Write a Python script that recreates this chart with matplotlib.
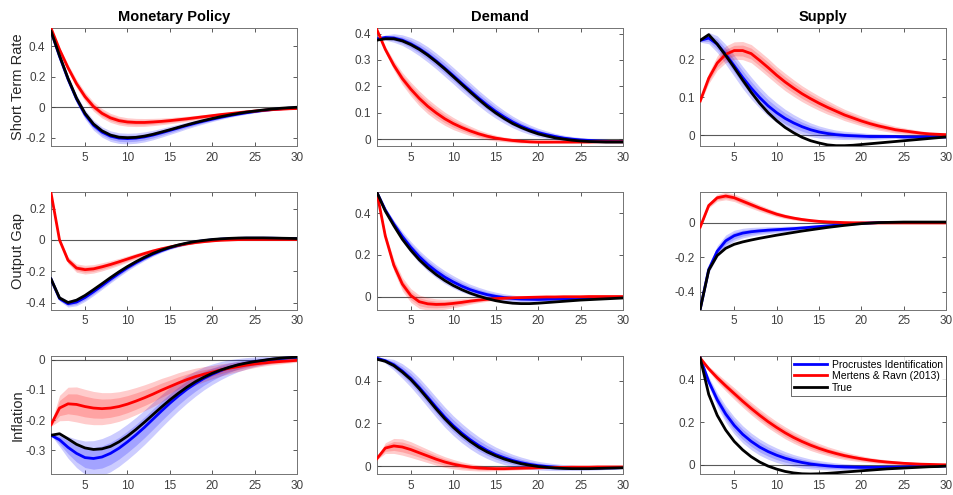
import numpy as np
import matplotlib
matplotlib.use('agg')
import matplotlib.pyplot as plt

plt.rcParams['font.family'] = ['Liberation Sans', 'DejaVu Sans']

h = np.arange(1, 31)
shocks = ['Monetary Policy', 'Demand', 'Supply']
variables = ['Short Term Rate', 'Output Gap', 'Inflation']
labels = ['Procrustes Identification', 'Mertens & Ravn (2013)', 'True']

# --- short term rate ---
mp_rate_true = [0.50,0.34,0.19,0.06,-0.04,-0.11,-0.155,-0.183,-0.197,-0.20,-0.198,-0.19,-0.178,-0.163,-0.148,-0.132,-0.116,-0.101,-0.087,-0.074,-0.062,-0.051,-0.041,-0.032,-0.025,-0.018,-0.012,-0.007,-0.003,0.0]
mp_rate_proc = [0.50,0.335,0.185,0.055,-0.047,-0.118,-0.163,-0.19,-0.203,-0.206,-0.203,-0.195,-0.183,-0.168,-0.152,-0.136,-0.12,-0.105,-0.091,-0.078,-0.066,-0.055,-0.045,-0.036,-0.028,-0.021,-0.015,-0.01,-0.006,-0.003]
mp_rate_mr = [0.52,0.38,0.26,0.155,0.07,0.005,-0.04,-0.07,-0.088,-0.097,-0.10,-0.10,-0.097,-0.093,-0.088,-0.082,-0.076,-0.069,-0.062,-0.055,-0.048,-0.042,-0.036,-0.03,-0.025,-0.02,-0.016,-0.013,-0.01,-0.008]
mp_rate_proc_w = [0.0,0.012,0.022,0.028,0.031,0.033,0.034,0.035,0.035,0.035,0.034,0.033,0.031,0.029,0.027,0.025,0.022,0.02,0.018,0.016,0.014,0.012,0.011,0.01,0.009,0.008,0.007,0.006,0.006,0.005]
mp_rate_mr_w = [0.0,0.014,0.023,0.028,0.03,0.031,0.031,0.03,0.029,0.028,0.027,0.026,0.024,0.022,0.02,0.019,0.017,0.015,0.014,0.012,0.011,0.01,0.009,0.008,0.007,0.006,0.006,0.005,0.005,0.004]

dm_rate_true = [0.375,0.38,0.38,0.372,0.358,0.34,0.318,0.293,0.266,0.237,0.208,0.179,0.151,0.124,0.10,0.079,0.06,0.045,0.032,0.021,0.013,0.006,0.001,-0.003,-0.006,-0.008,-0.009,-0.01,-0.01,-0.01]
dm_rate_proc = [0.38,0.385,0.383,0.375,0.361,0.343,0.321,0.296,0.269,0.241,0.212,0.184,0.156,0.13,0.106,0.085,0.066,0.05,0.037,0.026,0.018,0.011,0.005,0.001,-0.002,-0.004,-0.006,-0.007,-0.008,-0.008]
dm_rate_mr = [0.415,0.34,0.28,0.23,0.19,0.155,0.125,0.10,0.078,0.06,0.045,0.032,0.021,0.012,0.005,0.0,-0.004,-0.007,-0.009,-0.01,-0.01,-0.01,-0.01,-0.01,-0.01,-0.01,-0.009,-0.009,-0.009,-0.009]
dm_rate_proc_w = [0.0,0.01,0.016,0.02,0.024,0.027,0.029,0.03,0.031,0.031,0.031,0.03,0.029,0.028,0.026,0.024,0.022,0.02,0.018,0.016,0.014,0.012,0.011,0.01,0.009,0.008,0.007,0.007,0.006,0.006]
dm_rate_mr_w = [0.004,0.012,0.018,0.023,0.026,0.028,0.028,0.027,0.025,0.023,0.02,0.018,0.015,0.013,0.011,0.009,0.008,0.007,0.006,0.005,0.005,0.004,0.004,0.004,0.003,0.003,0.003,0.003,0.003,0.003]

sp_rate_true = [0.25,0.265,0.24,0.21,0.178,0.145,0.113,0.084,0.059,0.038,0.02,0.006,-0.006,-0.015,-0.021,-0.026,-0.028,-0.028,-0.027,-0.025,-0.023,-0.021,-0.019,-0.017,-0.015,-0.013,-0.011,-0.009,-0.007,-0.005]
sp_rate_proc = [0.25,0.256,0.24,0.213,0.183,0.152,0.124,0.099,0.077,0.059,0.044,0.032,0.022,0.014,0.008,0.004,0.001,-0.001,-0.002,-0.003,-0.004,-0.004,-0.004,-0.004,-0.005,-0.005,-0.005,-0.005,-0.005,-0.005]
sp_rate_mr = [0.09,0.15,0.19,0.213,0.223,0.223,0.215,0.197,0.178,0.158,0.14,0.124,0.109,0.096,0.084,0.073,0.063,0.053,0.045,0.037,0.03,0.024,0.019,0.014,0.011,0.008,0.005,0.003,0.002,0.001]
sp_rate_proc_w = [0.005,0.015,0.022,0.026,0.028,0.029,0.029,0.028,0.027,0.026,0.024,0.022,0.02,0.018,0.016,0.014,0.012,0.011,0.01,0.009,0.008,0.007,0.006,0.005,0.005,0.004,0.004,0.004,0.004,0.004]
sp_rate_mr_w = [0.005,0.014,0.019,0.022,0.023,0.024,0.024,0.024,0.024,0.023,0.023,0.022,0.021,0.02,0.019,0.018,0.016,0.015,0.014,0.013,0.012,0.011,0.01,0.009,0.008,0.007,0.006,0.005,0.004,0.004]

# --- output gap ---
mp_gap_true = [-0.25,-0.37,-0.40,-0.385,-0.355,-0.318,-0.28,-0.241,-0.204,-0.17,-0.139,-0.111,-0.086,-0.065,-0.047,-0.032,-0.02,-0.01,-0.003,0.003,0.007,0.01,0.012,0.013,0.013,0.013,0.012,0.011,0.01,0.009]
mp_gap_proc = [-0.25,-0.375,-0.408,-0.397,-0.368,-0.331,-0.292,-0.252,-0.214,-0.178,-0.146,-0.117,-0.091,-0.069,-0.05,-0.035,-0.022,-0.012,-0.005,0.001,0.005,0.008,0.01,0.011,0.011,0.011,0.011,0.01,0.009,0.008]
mp_gap_mr = [0.30,0.0,-0.13,-0.18,-0.19,-0.185,-0.172,-0.157,-0.14,-0.122,-0.104,-0.087,-0.071,-0.057,-0.045,-0.034,-0.025,-0.017,-0.011,-0.006,-0.002,0.0,0.002,0.003,0.003,0.003,0.003,0.003,0.003,0.003]
mp_gap_proc_w = [0.005,0.016,0.021,0.024,0.025,0.025,0.024,0.023,0.022,0.02,0.018,0.016,0.014,0.012,0.011,0.01,0.009,0.008,0.007,0.006,0.005,0.004,0.004,0.004,0.003,0.003,0.003,0.003,0.003,0.003]
mp_gap_mr_w = [0.004,0.012,0.022,0.027,0.028,0.027,0.026,0.024,0.022,0.02,0.018,0.016,0.014,0.012,0.01,0.009,0.008,0.007,0.006,0.005,0.004,0.004,0.003,0.003,0.003,0.003,0.003,0.003,0.003,0.003]

dm_gap_true = [0.5,0.41,0.34,0.275,0.222,0.176,0.138,0.105,0.077,0.053,0.033,0.016,0.002,-0.01,-0.02,-0.027,-0.032,-0.034,-0.034,-0.032,-0.029,-0.026,-0.023,-0.02,-0.017,-0.015,-0.013,-0.011,-0.009,-0.007]
dm_gap_proc = [0.5,0.415,0.348,0.288,0.236,0.191,0.153,0.121,0.093,0.07,0.05,0.033,0.02,0.009,0.001,-0.005,-0.009,-0.012,-0.013,-0.014,-0.013,-0.012,-0.011,-0.01,-0.009,-0.008,-0.007,-0.006,-0.005,-0.005]
dm_gap_mr = [0.5,0.29,0.15,0.06,0.005,-0.025,-0.035,-0.038,-0.037,-0.033,-0.028,-0.022,-0.017,-0.013,-0.01,-0.008,-0.006,-0.005,-0.004,-0.003,-0.002,-0.002,-0.001,-0.001,-0.001,0.0,0.0,0.0,0.0,0.0]
dm_gap_proc_w = [0.0,0.01,0.018,0.024,0.028,0.03,0.031,0.031,0.031,0.03,0.028,0.026,0.024,0.022,0.02,0.018,0.016,0.014,0.012,0.011,0.01,0.009,0.008,0.007,0.006,0.005,0.005,0.004,0.004,0.004]
dm_gap_mr_w = [0.0,0.018,0.028,0.032,0.033,0.032,0.03,0.027,0.024,0.021,0.018,0.015,0.012,0.01,0.008,0.007,0.006,0.005,0.004,0.004,0.004,0.003,0.003,0.003,0.003,0.003,0.003,0.003,0.003,0.003]

sp_gap_true = [-0.5,-0.275,-0.19,-0.148,-0.125,-0.111,-0.10,-0.09,-0.081,-0.072,-0.064,-0.056,-0.048,-0.041,-0.034,-0.027,-0.021,-0.015,-0.01,-0.005,-0.002,0.001,0.002,0.003,0.004,0.004,0.004,0.004,0.004,0.004]
sp_gap_proc = [-0.5,-0.27,-0.165,-0.105,-0.075,-0.06,-0.052,-0.047,-0.043,-0.04,-0.037,-0.034,-0.03,-0.026,-0.022,-0.018,-0.014,-0.01,-0.006,-0.003,-0.001,0.001,0.002,0.002,0.002,0.002,0.002,0.002,0.002,0.002]
sp_gap_mr = [-0.025,0.10,0.145,0.155,0.145,0.125,0.105,0.085,0.067,0.05,0.037,0.027,0.019,0.013,0.008,0.005,0.003,0.001,0.0,0.0,-0.001,-0.001,-0.001,-0.001,-0.001,-0.001,-0.001,-0.001,-0.001,-0.001]
sp_gap_proc_w = [0.0,0.022,0.032,0.034,0.032,0.028,0.025,0.022,0.02,0.018,0.017,0.015,0.013,0.012,0.011,0.01,0.009,0.008,0.007,0.006,0.005,0.005,0.004,0.004,0.004,0.003,0.003,0.003,0.003,0.003]
sp_gap_mr_w = [0.005,0.014,0.02,0.022,0.022,0.022,0.021,0.019,0.017,0.015,0.013,0.011,0.01,0.008,0.007,0.006,0.005,0.004,0.004,0.003,0.003,0.003,0.003,0.003,0.003,0.003,0.003,0.003,0.003,0.003]

# --- inflation ---
mp_inf_true = [-0.25,-0.245,-0.262,-0.28,-0.292,-0.297,-0.295,-0.287,-0.272,-0.253,-0.231,-0.207,-0.182,-0.157,-0.133,-0.111,-0.091,-0.073,-0.058,-0.045,-0.034,-0.025,-0.017,-0.011,-0.006,-0.002,0.002,0.005,0.007,0.009]
mp_inf_proc = [-0.25,-0.265,-0.29,-0.31,-0.324,-0.327,-0.322,-0.31,-0.293,-0.272,-0.249,-0.224,-0.197,-0.17,-0.144,-0.12,-0.098,-0.079,-0.062,-0.048,-0.036,-0.026,-0.018,-0.012,-0.007,-0.003,0.001,0.004,0.006,0.008]
mp_inf_mr = [-0.215,-0.16,-0.146,-0.148,-0.155,-0.16,-0.162,-0.16,-0.155,-0.147,-0.137,-0.126,-0.114,-0.101,-0.089,-0.077,-0.066,-0.056,-0.048,-0.041,-0.034,-0.028,-0.023,-0.018,-0.014,-0.011,-0.008,-0.006,-0.004,-0.002]
mp_inf_proc_w = [0.0,0.022,0.036,0.047,0.055,0.059,0.061,0.061,0.06,0.059,0.058,0.057,0.056,0.054,0.052,0.049,0.046,0.042,0.038,0.034,0.03,0.026,0.022,0.019,0.016,0.014,0.012,0.01,0.009,0.008]
mp_inf_mr_w = [0.005,0.042,0.055,0.058,0.057,0.055,0.053,0.051,0.049,0.047,0.045,0.043,0.041,0.039,0.036,0.034,0.031,0.028,0.025,0.022,0.02,0.018,0.016,0.014,0.012,0.01,0.009,0.008,0.007,0.006]

dm_inf_true = [0.5,0.49,0.47,0.44,0.405,0.362,0.315,0.267,0.222,0.182,0.147,0.116,0.089,0.067,0.049,0.034,0.022,0.012,0.005,-0.001,-0.005,-0.008,-0.01,-0.011,-0.011,-0.011,-0.01,-0.009,-0.008,-0.007]
dm_inf_proc = [0.505,0.493,0.474,0.445,0.41,0.368,0.322,0.275,0.23,0.19,0.155,0.124,0.097,0.074,0.055,0.04,0.027,0.017,0.009,0.003,-0.001,-0.004,-0.006,-0.007,-0.008,-0.008,-0.008,-0.007,-0.007,-0.006]
dm_inf_mr = [0.035,0.085,0.095,0.09,0.078,0.063,0.048,0.033,0.02,0.01,0.002,-0.004,-0.008,-0.01,-0.011,-0.011,-0.01,-0.009,-0.008,-0.007,-0.006,-0.005,-0.005,-0.004,-0.004,-0.004,-0.003,-0.003,-0.003,-0.003]
dm_inf_proc_w = [0.0,0.012,0.025,0.034,0.04,0.044,0.046,0.047,0.047,0.046,0.045,0.043,0.041,0.038,0.035,0.032,0.029,0.026,0.023,0.02,0.018,0.016,0.014,0.012,0.011,0.01,0.009,0.008,0.007,0.006]
dm_inf_mr_w = [0.005,0.025,0.035,0.038,0.037,0.034,0.031,0.028,0.025,0.022,0.019,0.016,0.014,0.012,0.01,0.009,0.008,0.007,0.006,0.005,0.005,0.004,0.004,0.004,0.003,0.003,0.003,0.003,0.003,0.003]

sp_inf_true = [0.5,0.33,0.232,0.163,0.11,0.07,0.038,0.013,-0.006,-0.02,-0.031,-0.038,-0.042,-0.043,-0.042,-0.04,-0.037,-0.034,-0.031,-0.028,-0.025,-0.022,-0.019,-0.017,-0.015,-0.013,-0.011,-0.009,-0.008,-0.006]
sp_inf_proc = [0.5,0.39,0.305,0.238,0.185,0.143,0.11,0.083,0.062,0.045,0.031,0.02,0.011,0.004,-0.001,-0.005,-0.008,-0.01,-0.011,-0.012,-0.012,-0.012,-0.011,-0.011,-0.01,-0.009,-0.008,-0.007,-0.006,-0.005]
sp_inf_mr = [0.5,0.45,0.408,0.37,0.334,0.298,0.264,0.232,0.202,0.175,0.15,0.128,0.109,0.092,0.077,0.064,0.053,0.043,0.035,0.028,0.022,0.017,0.013,0.01,0.007,0.005,0.003,0.002,0.001,0.0]
sp_inf_proc_w = [0.0,0.022,0.033,0.038,0.04,0.04,0.039,0.038,0.036,0.034,0.031,0.028,0.026,0.023,0.021,0.019,0.017,0.015,0.013,0.012,0.011,0.01,0.009,0.008,0.007,0.006,0.005,0.005,0.004,0.004]
sp_inf_mr_w = [0.0,0.012,0.02,0.024,0.027,0.028,0.029,0.029,0.029,0.028,0.028,0.027,0.026,0.025,0.023,0.021,0.02,0.018,0.016,0.014,0.012,0.011,0.01,0.009,0.008,0.007,0.006,0.005,0.004,0.004]

panels = [
    [(mp_rate_true, mp_rate_proc, mp_rate_mr, mp_rate_proc_w, mp_rate_mr_w),
     (dm_rate_true, dm_rate_proc, dm_rate_mr, dm_rate_proc_w, dm_rate_mr_w),
     (sp_rate_true, sp_rate_proc, sp_rate_mr, sp_rate_proc_w, sp_rate_mr_w)],
    [(mp_gap_true, mp_gap_proc, mp_gap_mr, mp_gap_proc_w, mp_gap_mr_w),
     (dm_gap_true, dm_gap_proc, dm_gap_mr, dm_gap_proc_w, dm_gap_mr_w),
     (sp_gap_true, sp_gap_proc, sp_gap_mr, sp_gap_proc_w, sp_gap_mr_w)],
    [(mp_inf_true, mp_inf_proc, mp_inf_mr, mp_inf_proc_w, mp_inf_mr_w),
     (dm_inf_true, dm_inf_proc, dm_inf_mr, dm_inf_proc_w, dm_inf_mr_w),
     (sp_inf_true, sp_inf_proc, sp_inf_mr, sp_inf_proc_w, sp_inf_mr_w)],
]

ylims = [[(-0.255, 0.52), (-0.025, 0.42), (-0.029, 0.282)],
         [(-0.447, 0.306), (-0.064, 0.501), (-0.505, 0.178)],
         [(-0.379, 0.011), (-0.037, 0.513), (-0.044, 0.508)]]
yticks = [[[-0.2, 0, 0.2, 0.4], [0, 0.1, 0.2, 0.3, 0.4], [0, 0.1, 0.2]],
          [[-0.4, -0.2, 0, 0.2], [0, 0.2, 0.4], [-0.4, -0.2, 0]],
          [[-0.3, -0.2, -0.1, 0], [0, 0.2, 0.4], [0, 0.2, 0.4]]]

lefts = [0.0535, 0.395, 0.734]
bottoms = [0.705, 0.374, 0.042]
w, hgt = 0.258, 0.238

fig = plt.figure(figsize=(9.54, 4.95), dpi=100)
for r in range(3):
    for c in range(3):
        ax = fig.add_axes([lefts[c], bottoms[r], w, hgt])
        true, proc, mr, pw, mw = [np.array(a) for a in panels[r][c]]
        ax.axhline(0, color='0.35', lw=0.8, zorder=1)
        for k in (1.0, 0.6):
            ax.fill_between(h, proc - k * pw, proc + k * pw, color=(0, 0, 1),
                            alpha=0.2, lw=0, zorder=2)
            ax.fill_between(h, mr - k * mw, mr + k * mw, color=(1, 0, 0),
                            alpha=0.2, lw=0, zorder=2)
        ax.plot(h, proc, color=(0, 0, 1), lw=2, zorder=3, label=labels[0])
        ax.plot(h, mr, color=(1, 0, 0), lw=2, zorder=3, label=labels[1])
        ax.plot(h, true, color='k', lw=2, zorder=4, label=labels[2])
        ax.set_xlim(1, 30)
        ax.set_ylim(*ylims[r][c])
        ax.set_xticks([5, 10, 15, 20, 25, 30])
        ax.set_yticks(yticks[r][c])
        ax.set_yticklabels(['%g' % t for t in yticks[r][c]])
        ax.tick_params(direction='in', top=True, right=True, length=3,
                       width=0.6, labelsize=8.5, colors='0.25', pad=4)
        for s in ax.spines.values():
            s.set_color('0.45')
            s.set_linewidth(0.7)
        if r == 0:
            ax.set_title(shocks[c], fontsize=10.5, fontweight='bold', pad=5)
        if c == 0:
            ax.set_ylabel(variables[r], fontsize=10.5, color='0.15', labelpad=0)
        if r == 2 and c == 2:
            leg = ax.legend(loc='upper right', fontsize=7.5, frameon=True,
                            fancybox=False, borderaxespad=0, handlelength=3.2,
                            labelspacing=0.15, borderpad=0.3, handletextpad=0.5)
            leg.get_frame().set_edgecolor('0.15')
            leg.get_frame().set_linewidth(0.6)

fig.savefig('out.png', dpi=100)
